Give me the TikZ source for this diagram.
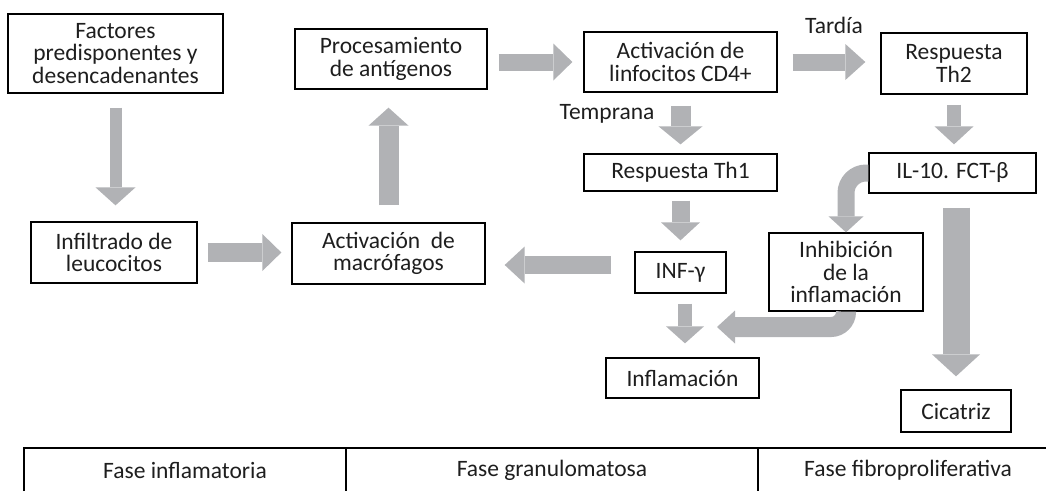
\documentclass[tikz,border=0pt]{standalone}
\usepackage{fontspec}
\setmainfont{Carlito}
\usetikzlibrary{arrows.meta}
\definecolor{arrgray}{RGB}{177,178,181}
\definecolor{txt}{RGB}{30,30,30}

\begin{document}
\begin{tikzpicture}[x=1pt,y=-1pt,
  every node/.style={font=\fontsize{23.5}{22.5}\selectfont,text=txt},
  box/.style={draw,line width=1.3pt,align=center,inner sep=0pt},
  blk/.style n args={3}{draw=arrgray,line width=#1,-{Triangle[width=#2,length=#3,line width=0pt]}}]
\useasboundingbox (0,0) rectangle (1046,491);

\node[box,minimum width=215pt,minimum height=79pt] (factores) at (115.5,53.5) {Factores\\predisponentes y\\desencadenantes};
\node[box,minimum width=166pt,minimum height=61pt] (infiltrado) at (114,252.5) {Infiltrado de\\leucocitos};
\node[box,minimum width=193pt,minimum height=61pt] (macrofagos) at (388.5,253.5) {Activación\ \ de\\macrófagos};
\node[box,minimum width=192pt,minimum height=60pt] (procesam) at (391,59) {Procesamiento\\de antígenos};
\node[box,minimum width=193pt,minimum height=60pt] (linfocitos) at (680.5,62) {Activación de\\linfocitos CD4+};
\node[box,minimum width=146pt,minimum height=61pt] (th2) at (954,63.5) {Respuesta\\Th2};
\node[box,minimum width=167pt,minimum height=40pt] (il10) at (952.5,173) {IL-10. FCT-β};
\node[box,minimum width=193pt,minimum height=37pt] (th1) at (680.5,172.5) {Respuesta Th1};
\node[box,minimum width=91pt,minimum height=41pt] (infg) at (680.5,272.5) {INF-γ};
\node[box,minimum width=154pt,minimum height=78pt] (inhib) at (846,272) {Inhibición\\de la\\inflamación};
\node[box,minimum width=153pt,minimum height=40pt] (inflam) at (682.5,378) {Inflamación};
\node[box,minimum width=110pt,minimum height=42pt] (cicatriz) at (956,411) {Cicatriz};

\node (tardia) at (834,25) {Tardía};
\node (temprana) at (607,114) {Temprana};
\coordinate (merge) at (717,327);

\draw[blk={12pt}{40pt}{18pt},shorten <=14pt,shorten >=16pt] (factores.south) -- (factores.south |- infiltrado.north);
\draw[blk={19pt}{37pt}{19pt},shorten <=10pt,shorten >=10pt] (infiltrado.east) -- (infiltrado.east -| macrofagos.west);
\draw[blk={20pt}{40pt}{18pt},shorten <=17pt,shorten >=18pt] (macrofagos.north) -- (macrofagos.north |- procesam.south);
\draw[blk={17pt}{37pt}{19pt},shorten <=11pt,shorten >=11pt] (linfocitos.west -| procesam.east) -- (linfocitos.west);
\draw[blk={17pt}{36pt}{20pt},shorten <=15pt,shorten >=15pt] (linfocitos.east) -- (linfocitos.east -| th2.west);
\draw[blk={20pt}{44pt}{18pt},shorten <=13pt,shorten >=9pt] (linfocitos.south) -- (th1.north);
\draw[blk={14pt}{39pt}{18pt},shorten <=10pt,shorten >=8pt] (th2.south) -- (th2.south |- il10.north);
\draw[blk={18pt}{39pt}{18pt},shorten <=9pt,shorten >=11pt] (th1.south) -- (infg.north);
\draw[blk={14pt}{38pt}{17pt},shorten <=10pt,shorten >=14pt] ([xshift=4.5pt]infg.south) -- ([xshift=4.5pt]infg.south |- inflam.north);
\draw[blk={18pt}{37pt}{20pt},shorten <=23pt,shorten >=19pt] ([yshift=7.5pt]infg.west) -- ([yshift=7.5pt]infg.west -| macrofagos.east);
\draw[blk={27pt}{48pt}{22pt},shorten <=14pt,shorten >=13pt] (cicatriz.north |- il10.south) -- (cicatriz.north);
\draw[blk={17pt}{35pt}{16pt},rounded corners=20pt] (il10.west) -| (inhib.north);
\draw[blk={20pt}{33pt}{18pt},rounded corners=15pt] (inhib.south) |- (merge);

\draw[line width=1.2pt] (24,491) -- (24,448) -- (1046,448);
\draw[line width=1.2pt] (346,448) -- (346,491);
\draw[line width=1.2pt] (758,448) -- (758,491);
\node (fase1) at (185,470) {Fase inflamatoria};
\node (fase2) at (552,470) {Fase granulomatosa};
\node (fase3) at (908,470) {Fase fibroproliferativa};
\end{tikzpicture}
\end{document}
